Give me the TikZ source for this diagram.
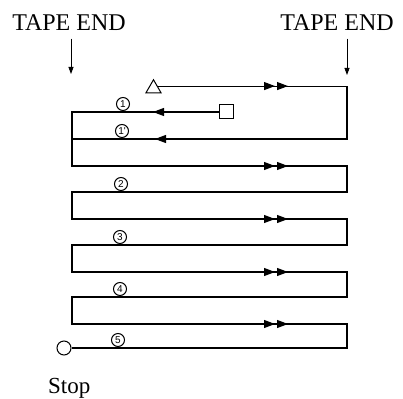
\documentclass[tikz,border=0pt]{standalone}
\usepackage{fontspec}
\setmainfont{Liberation Serif}
\newfontfamily\lblfont{Liberation Sans}
\usetikzlibrary{arrows.meta,shapes.geometric,decorations.markings}
\begin{document}
\begin{tikzpicture}[x=1pt,y=-1pt,
  tape/.style={line width=1.1pt, line join=miter},
  >={Triangle[length=11pt,width=8pt]},
  dblR/.style={postaction={decorate,decoration={markings,
      mark=at position -72pt with {\arrow{>}},
      mark=at position -59pt with {\arrow{>}}}}},
  sglA/.style={postaction={decorate,decoration={markings,
      mark=at position -81pt with {\arrow{>}}}}},
  sglB/.style={postaction={decorate,decoration={markings,
      mark=at position -83pt with {\arrow{>}}}}},
  lbl/.style={circle,draw,line width=1pt,minimum size=13pt,inner sep=0pt,
      font=\lblfont\fontsize{10}{10}\selectfont,anchor=south},
  mark shape/.style={draw,line width=1pt,inner sep=0pt},
  tapetext/.style={font=\fontsize{24}{24}\selectfont,anchor=base},
  tapearrow/.style={line width=0.8pt,-{Triangle[length=7pt,width=5pt]},shorten <=4pt}
]
\useasboundingbox (0,0) rectangle (403,398);

% texts
\node[tapetext] (tapeL) at (69,31) {TAPE END};
\node[tapetext] (tapeR) at (337,31) {TAPE END};
\node[font=\fontsize{23}{23}\selectfont,anchor=base west,inner sep=0pt] (stoptxt) at (48,393) {Stop};

\coordinate (dL) at (71,74);
\coordinate (dR) at (347,75);
\draw[tapearrow] (dL |- tapeL.south) -- (dL);
\draw[tapearrow] (dR |- tapeR.south) -- (dR);

% markers
\node[mark shape,regular polygon,regular polygon sides=3,minimum size=17.5pt] (tri) at (153.5,88.5) {};
\node[mark shape,minimum size=14pt] (sq) at (226,112) {};
\node[mark shape,circle,minimum size=14pt] (stop) at (64,348) {};

% corners
\coordinate (Rx) at (347,0);
\coordinate (a0R) at (tri.side 3 -| Rx);
\coordinate (a1L) at (72,112);
\coordinate (a2R) at (347,139);
\coordinate (a2L) at (72,139);
\coordinate (a3L) at (72,166);
\coordinate (a3R) at (347,166);
\coordinate (a4R) at (347,192);
\coordinate (a4L) at (72,192);
\coordinate (a5L) at (72,219);
\coordinate (a5R) at (347,219);
\coordinate (a6R) at (347,245);
\coordinate (a6L) at (72,245);
\coordinate (a7L) at (72,272);
\coordinate (a7R) at (347,272);
\coordinate (a8R) at (347,297);
\coordinate (a8L) at (72,297);
\coordinate (a9L) at (72,324);
\coordinate (a9R) at (347,324);
\coordinate (a10R) at (347,348);

% tape path
\draw[tape] (tri.side 3) -- (a0R) -- (a2R) -- (a2L);
\draw[tape] (sq.west) -- (a1L) -- (a3L) -- (a3R) -- (a4R) -- (a4L) -- (a5L)
  -- (a5R) -- (a6R) -- (a6L) -- (a7L) -- (a7R) -- (a8R) -- (a8L) -- (a9L)
  -- (a9R) -- (a10R) -- (stop);

% direction arrows
\draw[tape,dblR] (tri.side 3) -- (a0R);
\draw[tape,sglA] (sq.west) -- (a1L);
\draw[tape,sglB] (a2R) -- (a2L);
\draw[tape,dblR] (a3L) -- (a3R);
\draw[tape,dblR] (a5L) -- (a5R);
\draw[tape,dblR] (a7L) -- (a7R);
\draw[tape,dblR] (a9L) -- (a9R);

% labels
\node[lbl] (n1) at (123,111) {1};
\node[lbl] (n1p) at (122,138) {1'};
\node[lbl] (n2) at (121,191) {2};
\node[lbl] (n3) at (120,244) {3};
\node[lbl] (n4) at (120,296) {4};
\node[lbl] (n5) at (118,347) {5};
\end{tikzpicture}
\end{document}
